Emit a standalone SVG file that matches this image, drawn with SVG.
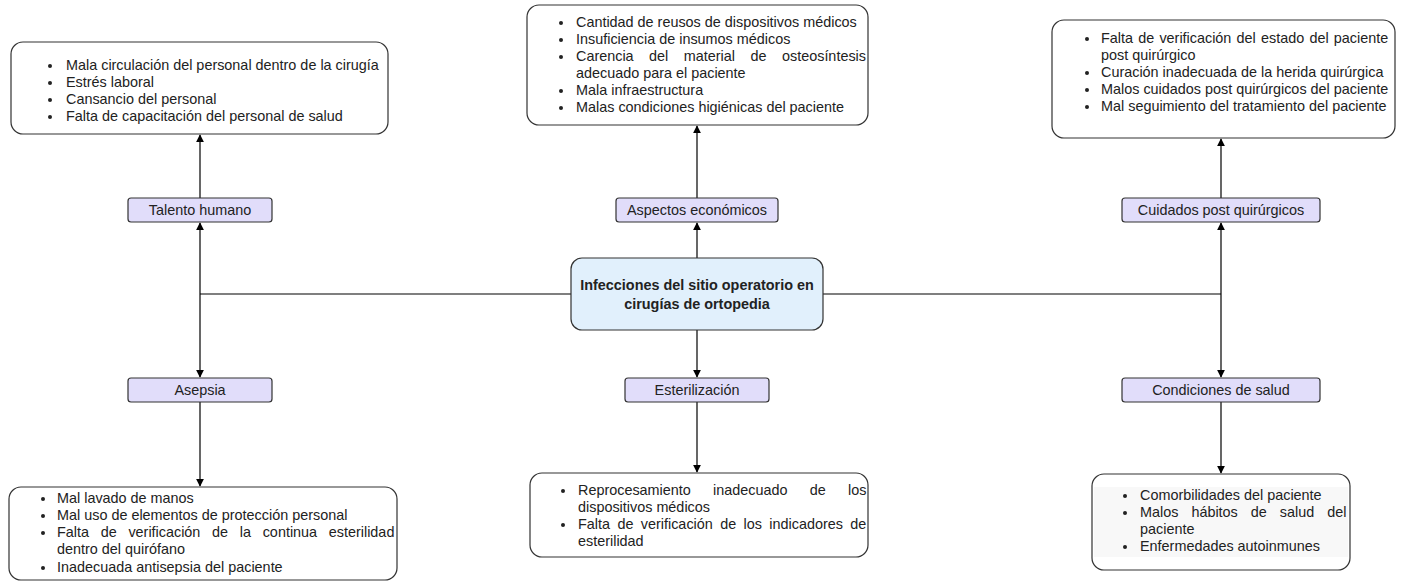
<svg xmlns="http://www.w3.org/2000/svg" width="1405" height="586" viewBox="0 0 1405 586">
<defs>
<style>
.box{fill:#ffffff;stroke:#333333;stroke-width:1.2}
.lbl{fill:#e1ddfa;stroke:#333333;stroke-width:1.2}
.main{fill:#e1f0fc;stroke:#333333;stroke-width:1.2}
.t{font-family:"Liberation Sans",Arial,sans-serif;font-size:14.4px;fill:#222222}
.c{text-anchor:middle}
.b{font-weight:bold}
.dot{fill:#222222}
.conn{stroke:#000000;stroke-width:1.2;fill:none}
</style>
<marker id="arr" viewBox="0 0 10 10" refX="9" refY="5" markerWidth="8" markerHeight="8" markerUnits="userSpaceOnUse" orient="auto">
<path d="M0,0 L10,5 L0,10 Z" fill="#000000"/>
</marker>
</defs>
<rect width="1405" height="586" fill="#ffffff"/>

<g id="connectors">
<path class="conn" d="M571,294 H200"/>
<path class="conn" d="M823,294 H1221"/>
<path class="conn" d="M200,294 V223" marker-end="url(#arr)"/>
<path class="conn" d="M200,294 V377" marker-end="url(#arr)"/>
<path class="conn" d="M200,198 V135" marker-end="url(#arr)"/>
<path class="conn" d="M200,402 V486" marker-end="url(#arr)"/>
<path class="conn" d="M697,258 V223" marker-end="url(#arr)"/>
<path class="conn" d="M697,198 V126" marker-end="url(#arr)"/>
<path class="conn" d="M697,330 V377" marker-end="url(#arr)"/>
<path class="conn" d="M697,402 V472" marker-end="url(#arr)"/>
<path class="conn" d="M1221,294 V223" marker-end="url(#arr)"/>
<path class="conn" d="M1221,294 V377" marker-end="url(#arr)"/>
<path class="conn" d="M1221,198 V139" marker-end="url(#arr)"/>
<path class="conn" d="M1221,402 V473" marker-end="url(#arr)"/>
</g>

<g id="main">
<rect class="main" x="571" y="258" width="252" height="72" rx="11"/>
<text class="t c b" x="697" y="290">Infecciones del sitio operatorio en</text>
<text class="t c b" x="697" y="309">cirugías de ortopedia</text>
</g>

<g id="talento">
<rect class="lbl" x="128" y="198" width="144" height="24" rx="3"/>
<text class="t c" x="200" y="215">Talento humano</text>
</g>
<g id="aspectos">
<rect class="lbl" x="616" y="198" width="162" height="24" rx="3"/>
<text class="t c" x="697" y="215">Aspectos económicos</text>
</g>
<g id="cuidados">
<rect class="lbl" x="1122" y="198" width="198" height="24" rx="3"/>
<text class="t c" x="1221" y="215">Cuidados post quirúrgicos</text>
</g>
<g id="asepsia">
<rect class="lbl" x="128" y="378" width="144" height="24" rx="3"/>
<text class="t c" x="200" y="395">Asepsia</text>
</g>
<g id="esterilizacion">
<rect class="lbl" x="625" y="378" width="144" height="24" rx="3"/>
<text class="t c" x="697" y="395">Esterilización</text>
</g>
<g id="condiciones">
<rect class="lbl" x="1122" y="378" width="198" height="24" rx="3"/>
<text class="t c" x="1221" y="395">Condiciones de salud</text>
</g>

<g id="box-talento">
<rect class="box" x="11" y="42" width="377" height="92" rx="12"/>
<circle class="dot" cx="50" cy="66" r="2"/>
<text class="t" x="66" y="70">Mala circulación del personal dentro de la cirugía</text>
<circle class="dot" cx="50" cy="83" r="2"/>
<text class="t" x="66" y="87">Estrés laboral</text>
<circle class="dot" cx="50" cy="100" r="2"/>
<text class="t" x="66" y="104">Cansancio del personal</text>
<circle class="dot" cx="50" cy="117" r="2"/>
<text class="t" x="66" y="121">Falta de capacitación del personal de salud</text>
</g>

<g id="box-aspectos">
<rect class="box" x="527" y="5" width="341" height="120" rx="12"/>
<circle class="dot" cx="561" cy="23" r="2"/>
<text class="t" x="576" y="27">Cantidad de reusos de dispositivos médicos</text>
<circle class="dot" cx="561" cy="40" r="2"/>
<text class="t" x="576" y="44">Insuficiencia de insumos médicos</text>
<circle class="dot" cx="561" cy="57" r="2"/>
<text class="t" x="576" y="61" word-spacing="11.5">Carencia del material de osteosíntesis</text>
<text class="t" x="576" y="78">adecuado para el paciente</text>
<circle class="dot" cx="561" cy="91" r="2"/>
<text class="t" x="576" y="95">Mala infraestructura</text>
<circle class="dot" cx="561" cy="108" r="2"/>
<text class="t" x="576" y="112">Malas condiciones higiénicas del paciente</text>
</g>

<g id="box-cuidados">
<rect class="box" x="1052" y="20" width="343" height="118" rx="12"/>
<circle class="dot" cx="1087" cy="39" r="2"/>
<text class="t" x="1101" y="43" word-spacing="1.2">Falta de verificación del estado del paciente</text>
<text class="t" x="1101" y="60">post quirúrgico</text>
<circle class="dot" cx="1087" cy="73" r="2"/>
<text class="t" x="1101" y="77">Curación inadecuada de la herida quirúrgica</text>
<circle class="dot" cx="1087" cy="90" r="2"/>
<text class="t" x="1101" y="94">Malos cuidados post quirúrgicos del paciente</text>
<circle class="dot" cx="1087" cy="107" r="2"/>
<text class="t" x="1101" y="111">Mal seguimiento del tratamiento del paciente</text>
</g>

<g id="box-asepsia">
<rect class="box" x="9" y="487" width="388" height="93" rx="12"/>
<circle class="dot" cx="43" cy="499" r="2"/>
<text class="t" x="57" y="503">Mal lavado de manos</text>
<circle class="dot" cx="43" cy="516" r="2"/>
<text class="t" x="57" y="520">Mal uso de elementos de protección personal</text>
<circle class="dot" cx="43" cy="533" r="2"/>
<text class="t" x="57" y="537" word-spacing="7.7">Falta de verificación de la continua esterilidad</text>
<text class="t" x="57" y="554">dentro del quirófano</text>
<circle class="dot" cx="43" cy="568" r="2"/>
<text class="t" x="57" y="572">Inadecuada antisepsia del paciente</text>
</g>

<g id="box-esterilizacion">
<rect class="box" x="530" y="473" width="338" height="84" rx="12"/>
<circle class="dot" cx="563" cy="491" r="2"/>
<text class="t" x="578" y="495" word-spacing="18.3">Reprocesamiento inadecuado de los</text>
<text class="t" x="578" y="512">dispositivos médicos</text>
<circle class="dot" cx="563" cy="525" r="2"/>
<text class="t" x="578" y="529" word-spacing="3.4">Falta de verificación de los indicadores de</text>
<text class="t" x="578" y="546">esterilidad</text>
</g>

<g id="box-condiciones">
<rect class="box" x="1092" y="474" width="258" height="96" rx="12"/>
<rect x="1094" y="487" width="254" height="70" fill="#f8f8f8"/>
<circle class="dot" cx="1125" cy="496" r="2"/>
<text class="t" x="1140" y="500">Comorbilidades del paciente</text>
<circle class="dot" cx="1125" cy="513" r="2"/>
<text class="t" x="1140" y="517" word-spacing="9">Malos hábitos de salud del</text>
<text class="t" x="1140" y="534">paciente</text>
<circle class="dot" cx="1125" cy="547" r="2"/>
<text class="t" x="1140" y="551">Enfermedades autoinmunes</text>
</g>
</svg>
